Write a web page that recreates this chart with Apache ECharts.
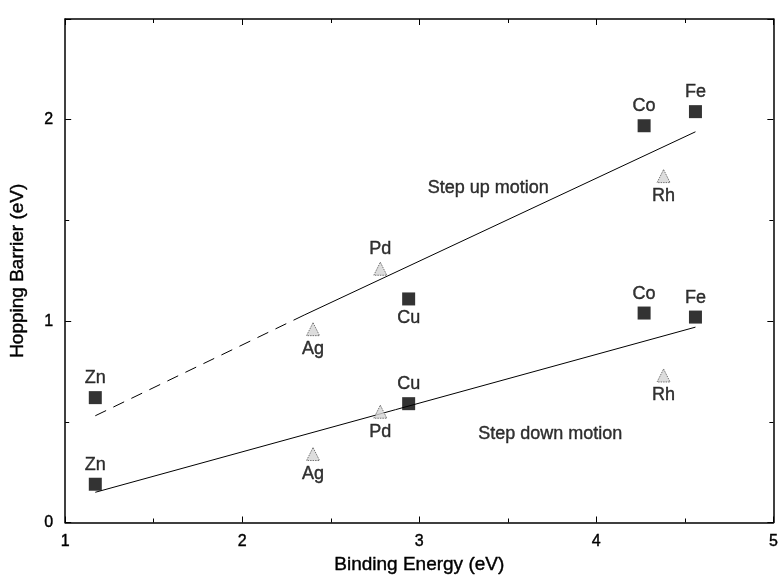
<!DOCTYPE html>
<html>
<head>
<meta charset="utf-8">
<script src="https://cdn.jsdelivr.net/npm/echarts@6/dist/echarts.min.js"></script>
<style>
  html, body { margin: 0; padding: 0; background: #fff; }
  #chart { width: 781px; height: 579px; }
</style>
</head>
<body>
<div id="chart"></div>
<script>
// metals, binding energy (eV) and hopping barriers (eV)
const metals = ['Zn', 'Ag', 'Pd', 'Cu', 'Co', 'Rh', 'Fe'];
const bindingEnergy = [1.17, 2.40, 2.78, 2.94, 4.27, 4.38, 4.56];
const stepUpBarrier = [0.62, 0.96, 1.26, 1.11, 1.97, 1.72, 2.04];
const stepDownBarrier = [0.19, 0.34, 0.55, 0.59, 1.04, 0.73, 1.02];
const markerKind = ['square', 'triangle', 'triangle', 'square', 'square', 'triangle', 'square'];

// fitted lines (dashed part, solid part)
const stepUpDashX = [1.17, 2.35];
const stepUpDashY = [0.53, 1.03];
const stepUpSolidX = [2.35, 4.56];
const stepUpSolidY = [1.03, 1.94];
const stepDownFitX = [1.17, 4.56];
const stepDownFitY = [0.15, 0.97];

const FONT = 'Liberation Sans, Arial, sans-serif';

const upLabelSide = { Zn: 'top', Ag: 'bottom', Pd: 'top', Cu: 'bottom', Co: 'top', Rh: 'bottom', Fe: 'top' };
const downLabelSide = { Zn: 'top', Ag: 'bottom', Pd: 'bottom', Cu: 'top', Co: 'top', Rh: 'bottom', Fe: 'top' };

function points(values, kind, sides) {
  const out = [];
  metals.forEach((name, i) => {
    if (markerKind[i] !== kind) return;
    out.push({
      name: name,
      value: [bindingEnergy[i], values[i]],
      label: { position: sides[name] },
    });
  });
  return out;
}

function zip(xs, ys) {
  return xs.map((x, i) => [x, ys[i]]);
}

const textStyle = {
  color: '#000',
  fontFamily: FONT,
  textBorderColor: '#000',
  textBorderWidth: 0.4,
};

const pointLabel = Object.assign({ show: true, formatter: '{b}', fontSize: 18, distance: 4 }, textStyle);

const squareStyle = {
  type: 'scatter',
  symbol: 'rect',
  symbolSize: 13,
  itemStyle: { color: '#000' },
  label: pointLabel,
  z: 5,
};

const triangleStyle = {
  type: 'scatter',
  symbol: 'triangle',
  symbolSize: 13,
  itemStyle: { color: '#d4d4d4', borderColor: '#555', borderWidth: 1, borderType: [1.5, 1] },
  label: pointLabel,
  z: 5,
};

const lineStyleBase = {
  type: 'line',
  showSymbol: false,
  symbol: 'none',
  silent: true,
  z: 3,
};

const chart = echarts.init(document.getElementById('chart'));

const axisCommon = {
  type: 'value',
  axisLine: { show: true, onZero: false, lineStyle: { color: '#000', width: 1.5 } },
  axisTick: { show: true, inside: true, length: 6, lineStyle: { color: '#000' } },
  minorTick: { show: true, splitNumber: 2, length: 4, lineStyle: { color: '#000' } },
  splitLine: { show: false },
};

const option = {
  animation: false,
  backgroundColor: '#fff',
  grid: { left: 62, right: 4, top: 19, bottom: 52 },
  xAxis: [
    Object.assign({}, axisCommon, {
      min: 1, max: 5, interval: 1,
      name: 'Binding Energy (eV)',
      nameLocation: 'middle',
      nameGap: 29,
      nameTextStyle: Object.assign({ fontSize: 19 }, textStyle),
      axisLabel: Object.assign({ fontSize: 16, margin: 11 }, textStyle),
    }),
    Object.assign({}, axisCommon, {
      min: 1, max: 5, interval: 1, position: 'top',
      axisLabel: { show: false },
    }),
  ],
  yAxis: [
    Object.assign({}, axisCommon, {
      min: 0, max: 2.5, interval: 1,
      name: 'Hopping Barrier (eV)',
      nameLocation: 'middle',
      nameGap: 38,
      nameTextStyle: Object.assign({ fontSize: 19 }, textStyle),
      axisLabel: Object.assign({
        fontSize: 16, margin: 12,
        formatter: (v) => (Number.isInteger(v) ? String(v) : ''),
      }, textStyle),
    }),
    Object.assign({}, axisCommon, {
      min: 0, max: 2.5, interval: 1, position: 'right',
      axisLabel: { show: false },
    }),
  ],
  series: [
    Object.assign({}, lineStyleBase, {
      data: zip(stepUpDashX, stepUpDashY),
      lineStyle: { color: '#000', width: 1, type: [12, 8] },
    }),
    Object.assign({}, lineStyleBase, {
      data: zip(stepUpSolidX, stepUpSolidY),
      lineStyle: { color: '#000', width: 1 },
    }),
    Object.assign({}, lineStyleBase, {
      data: zip(stepDownFitX, stepDownFitY),
      lineStyle: { color: '#000', width: 1 },
    }),
    Object.assign({}, squareStyle, { data: points(stepUpBarrier, 'square', upLabelSide) }),
    Object.assign({}, squareStyle, { data: points(stepDownBarrier, 'square', downLabelSide) }),
    Object.assign({}, triangleStyle, { data: points(stepUpBarrier, 'triangle', upLabelSide) }),
    Object.assign({}, triangleStyle, { data: points(stepDownBarrier, 'triangle', downLabelSide) }),
    {
      type: 'scatter',
      symbolSize: 0,
      silent: true,
      label: Object.assign({ show: true, position: 'inside', formatter: '{b}', fontSize: 18 }, textStyle),
      data: [
        { name: 'Step up motion', value: [3.39, 1.66] },
        { name: 'Step down motion', value: [3.74, 0.44] },
      ],
    },
  ],
};

chart.setOption(option);
</script>
</body>
</html>
